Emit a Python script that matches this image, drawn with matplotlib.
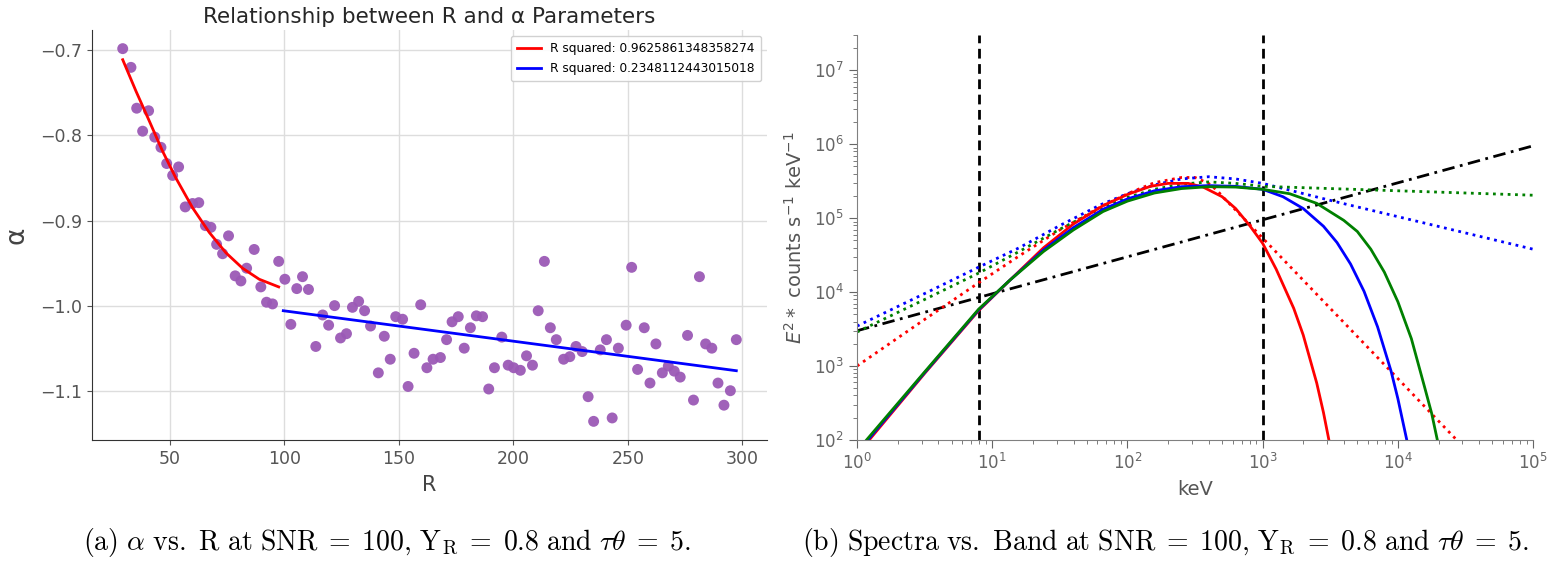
import numpy as np
import matplotlib
matplotlib.use("Agg")
import matplotlib.pyplot as plt

# ---- panel (a): alpha vs R ----
r_vals = [29.5, 33.1, 35.6, 38.2, 40.8, 43.5, 46.2, 48.7, 51.3, 53.9,
          56.8, 60.0, 62.7, 65.6, 68.0, 70.5, 73.1, 75.7, 78.6, 81.1,
          83.6, 86.9, 89.8, 92.3, 94.9, 97.6, 100.3, 102.9, 105.5, 108.0,
          110.6, 113.8, 116.8, 119.4, 122.0, 124.6, 127.2, 129.8, 132.5, 135.1,
          137.7, 141.1, 143.7, 146.3, 148.7, 151.7, 154.1, 156.7, 159.6, 162.3,
          165.0, 168.2, 170.9, 173.3, 176.0, 178.6, 181.3, 183.9, 186.6, 189.3,
          191.8, 195.0, 197.8, 200.2, 203.1, 205.8, 208.4, 210.9, 213.6, 216.2,
          218.8, 222.0, 224.7, 227.4, 230.1, 232.7, 235.1, 238.0, 240.7, 243.2,
          245.9, 249.3, 251.7, 254.3, 257.2, 259.7, 262.3, 265.1, 267.7, 270.3,
          272.9, 276.1, 278.7, 281.3, 284.0, 286.7, 289.4, 292.0, 294.8, 297.4]
alpha_vals = [-0.698, -0.720, -0.768, -0.795, -0.771, -0.802, -0.814, -0.833, -0.847, -0.837,
              -0.884, -0.880, -0.879, -0.906, -0.908, -0.928, -0.939, -0.918, -0.965, -0.971,
              -0.956, -0.934, -0.978, -0.996, -0.998, -0.948, -0.969, -1.022, -0.980, -0.966,
              -0.981, -1.048, -1.011, -1.023, -1.000, -1.038, -1.033, -1.002, -0.995, -1.006,
              -1.024, -1.079, -1.036, -1.063, -1.013, -1.016, -1.095, -1.056, -0.999, -1.073,
              -1.063, -1.061, -1.040, -1.019, -1.013, -1.050, -1.026, -1.012, -1.013, -1.098,
              -1.073, -1.037, -1.070, -1.073, -1.076, -1.059, -1.070, -1.006, -0.948, -1.026,
              -1.040, -1.063, -1.060, -1.048, -1.054, -1.107, -1.136, -1.052, -1.040, -1.132,
              -1.050, -1.023, -0.955, -1.075, -1.026, -1.091, -1.045, -1.079, -1.071, -1.077,
              -1.084, -1.035, -1.111, -0.966, -1.045, -1.050, -1.091, -1.117, -1.100, -1.040]

# fitted curves
fit1_r = [29.5, 35.3, 41.1, 46.9, 52.7, 60.0, 67.3, 74.6, 81.8, 89.1, 97.6]
fit1_alpha = [-0.711, -0.748, -0.783, -0.8185, -0.850, -0.885, -0.914, -0.938, -0.956, -0.969, -0.978]
fit2_r = [99.6, 297.4]
fit2_alpha = [-1.006, -1.0765]
fit_labels = ["R squared: 0.9625861348358274", "R squared: 0.2348112443015018"]

# ---- panel (b): spectra (log10 keV, log10 E^2 N) ----
red_solid_logE = [0.09, 0.5, 0.9, 1.13, 1.38, 1.6, 1.82, 2.0, 2.17, 2.3, 2.45, 2.56, 2.7, 2.8, 2.9,
                  3.0, 3.1, 3.23, 3.3, 3.4, 3.45, 3.49]
red_solid_logF = [2.0, 2.9, 3.75, 4.16, 4.6, 4.92, 5.17, 5.32, 5.43, 5.47, 5.47, 5.42, 5.29, 5.13, 4.91,
                  4.66, 4.31, 3.78, 3.42, 2.77, 2.37, 2.0]
blue_solid_logE = [0.08, 0.5, 0.9, 1.13, 1.38, 1.6, 1.82, 2.0, 2.2, 2.4, 2.6, 2.8, 3.0, 3.15, 3.3,
                   3.45, 3.55, 3.65, 3.75, 3.85, 3.95, 4.0, 4.066]
blue_solid_logF = [2.0, 2.91, 3.76, 4.16, 4.57, 4.87, 5.12, 5.26, 5.37, 5.425, 5.44, 5.43, 5.39, 5.29, 5.13,
                   4.89, 4.67, 4.38, 4.01, 3.53, 2.93, 2.56, 2.0]
green_solid_logE = [0.07, 0.5, 0.9, 1.13, 1.38, 1.6, 1.82, 2.0, 2.2, 2.4, 2.6, 2.8, 3.0, 3.2, 3.4,
                    3.6, 3.7, 3.8, 3.9, 4.0, 4.1, 4.2, 4.25, 4.292]
green_solid_logF = [2.0, 2.92, 3.77, 4.16, 4.55, 4.84, 5.09, 5.23, 5.34, 5.40, 5.425, 5.42, 5.39, 5.33, 5.20,
                    4.97, 4.82, 4.58, 4.27, 3.87, 3.37, 2.70, 2.36, 2.0]

red_band_logE = [0.0, 0.5, 0.903, 1.2, 1.5, 1.8, 2.0, 2.2, 2.4, 2.5, 2.6, 2.66, 2.72, 2.8, 2.9, 3.0,
                 3.09, 3.5, 4.0, 4.43]
red_band_logF = [3.0, 3.63, 4.13, 4.49, 4.84, 5.15, 5.33, 5.48, 5.55, 5.55, 5.47, 5.38, 5.26, 5.11, 4.92, 4.73,
                 4.56, 3.78, 2.83, 2.01]
blue_band_logE = [0.0, 0.5, 0.903, 1.2, 1.5, 1.8, 2.0, 2.2, 2.4, 2.6, 2.8, 3.0, 3.5, 4.0, 4.5, 5.0]
blue_band_logF = [3.54, 3.98, 4.34, 4.6, 4.9, 5.18, 5.33, 5.45, 5.53, 5.56, 5.53, 5.47, 5.24, 5.02, 4.80, 4.58]
green_band_logE = [0.0, 0.5, 0.903, 1.2, 1.5, 1.8, 2.0, 2.2, 2.4, 2.6, 2.8, 3.0, 3.5, 4.0, 4.5, 5.0]
green_band_logF = [3.46, 3.9, 4.26, 4.55, 4.85, 5.13, 5.28, 5.39, 5.46, 5.49, 5.47, 5.43, 5.40, 5.37, 5.34, 5.31]

pl_E = [1.0, 1.0e5]
pl_F = [3.0e3, 9.5e5]
band_limits = [8, 1000]

fig = plt.figure(figsize=(15.52, 5.63), dpi=100)

# ---------- left ----------
ax1 = fig.add_axes([0.0593, 0.2185, 0.4349, 0.7282])
ax1.scatter(r_vals, alpha_vals, s=62, color="#9b59b6", alpha=0.95, edgecolors="none", zorder=3)
ax1.plot(fit1_r, fit1_alpha, color="red", lw=2, label=fit_labels[0], zorder=4)
ax1.plot(fit2_r, fit2_alpha, color="blue", lw=2, label=fit_labels[1], zorder=4)
ax1.set_xticks([50, 100, 150, 200, 250, 300])
ax1.set_yticks([-0.7, -0.8, -0.9, -1.0, -1.1])
ax1.grid(True, color="#dddddd", lw=1)
ax1.set_axisbelow(True)
for side in ["top", "right"]:
    ax1.spines[side].set_visible(False)
for side in ["left", "bottom"]:
    ax1.spines[side].set_color("#333333")
ax1.tick_params(labelsize=12.5, colors="#555555", length=3.5)
ax1.set_title("Relationship between R and \u03b1 Parameters", fontsize=15.5, color="#262626", pad=5)
ax1.set_xlabel("R", fontsize=15, color="#444444", labelpad=5)
ax1.set_ylabel("\u03b1", fontsize=19, color="#444444", labelpad=8)
ax1.legend(loc="upper right", fontsize=8.7, framealpha=0.9, borderpad=0.5, labelspacing=0.6)

# ---------- right ----------
ax2 = fig.add_axes([0.5522, 0.2185, 0.4356, 0.7194])
ax2.plot(pl_E, pl_F, color="black", ls="-.", lw=2, dashes=(4.5, 2, 1, 2))
for xv in band_limits:
    ax2.axvline(xv, color="black", ls="--", lw=2, dashes=(3.5, 2))
ax2.plot(10 ** np.array(red_band_logE), 10 ** np.array(red_band_logF), color="red", ls=":", lw=2)
ax2.plot(10 ** np.array(blue_band_logE), 10 ** np.array(blue_band_logF), color="blue", ls=":", lw=2)
ax2.plot(10 ** np.array(green_band_logE), 10 ** np.array(green_band_logF), color="green", ls=":", lw=2)
ax2.plot(10 ** np.array(red_solid_logE), 10 ** np.array(red_solid_logF), color="red", lw=2)
ax2.plot(10 ** np.array(blue_solid_logE), 10 ** np.array(blue_solid_logF), color="blue", lw=2)
ax2.plot(10 ** np.array(green_solid_logE), 10 ** np.array(green_solid_logF), color="green", lw=2)
ax2.set_xscale("log")
ax2.set_yscale("log")
ax2.set_xlim(1, 1e5)
ax2.set_ylim(1e2, 3e7)
for side in ["top", "right"]:
    ax2.spines[side].set_visible(False)
for side in ["left", "bottom"]:
    ax2.spines[side].set_color("#808080")
ax2.tick_params(which="both", colors="#666666", labelsize=12)
ax2.tick_params(which="major", length=6)
ax2.tick_params(which="minor", length=3)
ax2.set_xlabel("keV", fontsize=14, color="#555555", labelpad=5)
ax2.set_ylabel(r"$E^2*$ counts s$^{-1}$ keV$^{-1}$", fontsize=14, color="#555555", labelpad=6)

# ---------- captions ----------
cap_a = (r"$\mathrm{(a)}\ \alpha\ \mathrm{vs.\ R\ at\ SNR}\;=\;100,\,\mathrm{Y_R}\;=\;0.8"
         r"\ \mathrm{and}\ \tau\theta\;=\;5.$")
cap_b = (r"$\mathrm{(b)\ Spectra\ vs.\ Band\ at\ SNR}\;=\;100,\,\mathrm{Y_R}\;=\;0.8"
         r"\ \mathrm{and}\ \tau\theta\;=\;5.$")
fig.text(0.2496, 0.036, cap_a, ha="center", va="center", fontsize=20, math_fontfamily="cm")
fig.text(0.7507, 0.036, cap_b, ha="center", va="center", fontsize=20, math_fontfamily="cm")

fig.savefig("out.png", dpi=100)
